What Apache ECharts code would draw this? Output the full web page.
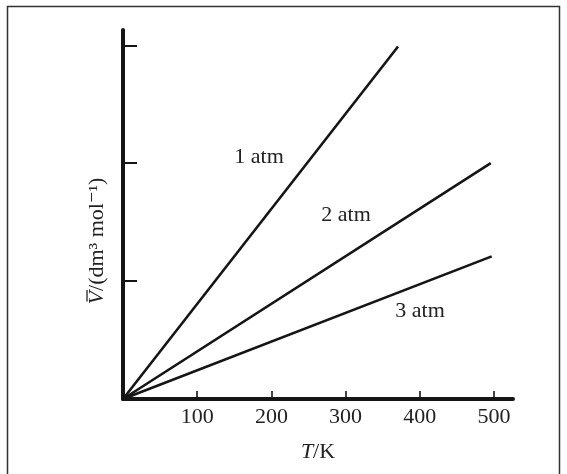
<!DOCTYPE html>
<html>
<head>
<meta charset="utf-8">
<script src="https://cdn.jsdelivr.net/npm/echarts@6/dist/echarts.min.js"></script>
<style>html,body{margin:0;padding:0;background:#fff}#c{width:567px;height:474px}</style>
</head>
<body>
<div id="c"></div>
<script>
// Data
const xTicks = [100, 200, 300, 400, 500];
const yTicks = [10, 20, 30];
const line1atm = [[0, 0], [370.7, 29.9]];
const line2atm = [[0, 0], [495.6, 20.0]];
const line3atm = [[0, 0], [496.9, 12.1]];
const seriesNames = ['1 atm', '2 atm', '3 atm'];
const yTitleV = 'V';
const yTitleRest = '/(dm\u00B3 mol\u207B\u00B9)';

const chart = echarts.init(document.getElementById('c'));
const ink = '#151515';
const font = '"Liberation Serif", "DejaVu Serif", serif';
const fs = 22;

// measure y-title pieces for placing the overbar
const ctx = document.createElement('canvas').getContext('2d');
ctx.font = 'italic ' + fs + 'px ' + font;
const wV = ctx.measureText(yTitleV).width;
ctx.font = fs + 'px ' + font;
const wR = ctx.measureText(yTitleRest).width;
const x0 = -(wV + wR) / 2;

const mk = (name, data) => ({
  name, type: 'line', data, showSymbol: false, silent: true,
  lineStyle: { color: ink, width: 2.6 }, animation: false
});
chart.setOption({
  backgroundColor: '#fff',
  animation: false,
  grid: { left: 123, right: 54, top: 30, bottom: 75, outerBoundsMode: 'none' },
  xAxis: {
    type: 'value', min: 0, max: 525.6,
    splitLine: { show: false },
    axisLine: { show: true, onZero: false, lineStyle: { color: ink, width: 4 } },
    axisTick: { show: true, inside: true, length: 8, customValues: xTicks, lineStyle: { color: ink, width: 1.6 } },
    axisLabel: { customValues: xTicks, margin: 7, color: '#222', fontFamily: font, fontSize: fs },
    name: '{i|T}{n|/K}', nameLocation: 'middle', nameGap: 42,
    nameTextStyle: { rich: {
      i: { fontFamily: font, fontStyle: 'italic', fontSize: fs, color: '#222' },
      n: { fontFamily: font, fontSize: fs, color: '#222' } } }
  },
  yAxis: {
    type: 'value', min: 0, max: 31.3,
    splitLine: { show: false },
    axisLine: { show: true, onZero: false, lineStyle: { color: ink, width: 4 } },
    axisTick: { show: true, inside: true, length: 14, customValues: yTicks, lineStyle: { color: ink, width: 2 } },
    axisLabel: { show: false }
  },
  graphic: [
    { type: 'rect', shape: { x: 7.5, y: 6.5, width: 552, height: 480 }, style: { fill: 'none', stroke: '#333', lineWidth: 1.5 }, silent: true },
    { type: 'group', x: 97, y: 241, rotation: Math.PI / 2, children: [
      { type: 'text', x: x0, y: 0, style: { text: yTitleV, align: 'left', verticalAlign: 'middle', font: 'italic ' + fs + 'px ' + font, fill: '#222' } },
      { type: 'text', x: x0 + wV, y: 0, style: { text: yTitleRest, align: 'left', verticalAlign: 'middle', font: fs + 'px ' + font, fill: '#222' } },
      { type: 'line', shape: { x1: x0 + 3, y1: -10, x2: x0 + wV + 1, y2: -10 }, style: { stroke: '#222', lineWidth: 1.3 } }
    ] },
    { type: 'text', x: 259, y: 157, style: { text: seriesNames[0], align: 'center', verticalAlign: 'middle', font: fs + 'px ' + font, fill: '#222' } },
    { type: 'text', x: 346, y: 215, style: { text: seriesNames[1], align: 'center', verticalAlign: 'middle', font: fs + 'px ' + font, fill: '#222' } },
    { type: 'text', x: 420, y: 311, style: { text: seriesNames[2], align: 'center', verticalAlign: 'middle', font: fs + 'px ' + font, fill: '#222' } }
  ],
  series: [mk(seriesNames[0], line1atm), mk(seriesNames[1], line2atm), mk(seriesNames[2], line3atm)]
});
</script>
</body>
</html>
